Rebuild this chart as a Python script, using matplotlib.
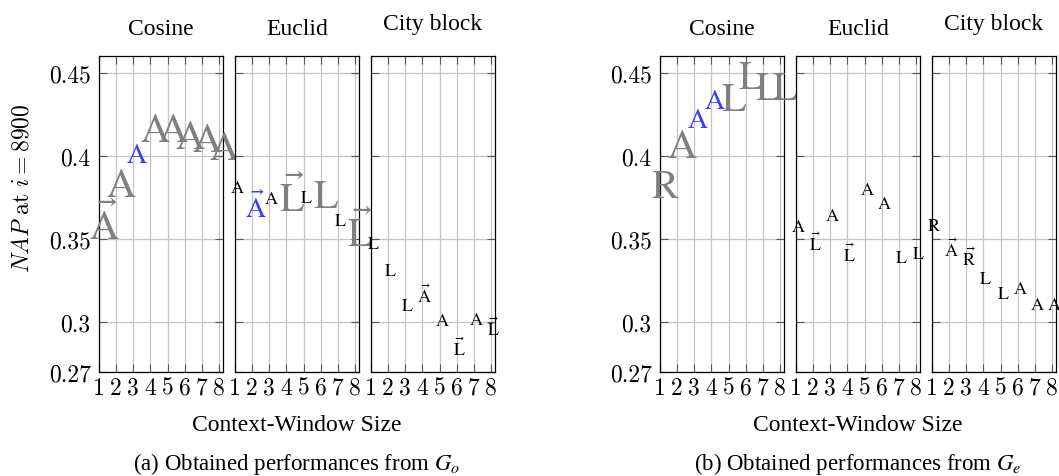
import matplotlib.pyplot as plt

panel_titles = ["Cosine", "Euclid", "City block"]
window_sizes = [1, 2, 3, 4, 5, 6, 7, 8]
y_ticks = [0.27, 0.3, 0.35, 0.4, 0.45]
y_tick_labels = ["0.27", "0.3", "0.35", "0.4", "0.45"]

# marks: letter, ">" = vector arrow on top; kinds: g = large gray, b = blue, k = small black
# (a) G_o
go_cos_nap = [0.358, 0.384, 0.402, 0.417, 0.417, 0.413, 0.411, 0.406]
go_cos_mark = ["A>", "A", "A", "A", "A", "A", "A", "A"]
go_cos_kind = ["g", "g", "b", "g", "g", "g", "g", "g"]

go_euc_nap = [0.382, 0.369, 0.375, 0.375, 0.376, 0.377, 0.362, 0.354]
go_euc_mark = ["A", "A>", "A", "L>", "L", "L", "L", "L>"]
go_euc_kind = ["k", "b", "k", "g", "k", "g", "k", "g"]

go_city_nap = [0.348, 0.332, 0.311, 0.316, 0.302, 0.284, 0.3025, 0.296]
go_city_mark = ["L", "L", "L", "A>", "A", "L>", "A", "L>"]
go_city_kind = ["k", "k", "k", "k", "k", "k", "k", "k"]

# (b) G_e
ge_cos_nap = [0.383, 0.4075, 0.423, 0.434, 0.4355, 0.4485, 0.442, 0.442]
ge_cos_mark = ["R", "A", "A", "A", "L", "L", "L", "L"]
ge_cos_kind = ["g", "g", "b", "b", "g", "g", "g", "g"]

ge_euc_nap = [0.3585, 0.347, 0.365, 0.3405, 0.3805, 0.3725, 0.340, 0.342]
ge_euc_mark = ["A", "L>", "A", "L>", "A", "A", "L", "L"]
ge_euc_kind = ["k", "k", "k", "k", "k", "k", "k", "k"]

ge_city_nap = [0.359, 0.3435, 0.338, 0.327, 0.318, 0.3215, 0.3115, 0.3115]
ge_city_mark = ["R", "A>", "R>", "L", "L", "A", "A", "A"]
ge_city_kind = ["k", "k", "k", "k", "k", "k", "k", "k"]

groups = [
    ("(a) Obtained performances from $G_o$",
     [(go_cos_nap, go_cos_mark, go_cos_kind),
      (go_euc_nap, go_euc_mark, go_euc_kind),
      (go_city_nap, go_city_mark, go_city_kind)]),
    ("(b) Obtained performances from $G_e$",
     [(ge_cos_nap, ge_cos_mark, ge_cos_kind),
      (ge_euc_nap, ge_euc_mark, ge_euc_kind),
      (ge_city_nap, ge_city_mark, ge_city_kind)]),
]

kind_style = {"g": (29, "#808080"), "b": (20, "#3c3cff"), "k": (13, "black")}

W, H = 1059, 477
fig = plt.figure(figsize=(W / 100, H / 100), dpi=100)
serif = "Liberation Serif"

group_left = [99, 660]
panel_step = 136
panel_w = 124
top_px, bot_px = 57, 373.3


def draw_marks(ax, nap, marks, kinds):
    for x, y, m, k in zip(window_sizes, nap, marks, kinds):
        size, color = kind_style[k]
        letter = m[0]
        if m.endswith(">"):
            s = r"$\vec{\mathrm{%s}}$" % letter
        else:
            s = r"$\mathrm{%s}$" % letter
        ax.annotate(s, (x, y), xytext=(0.13 * size, -0.33 * size),
                    textcoords="offset points", ha="center", va="baseline",
                    fontsize=size, color=color, math_fontfamily="stix",
                    annotation_clip=False, clip_on=False, zorder=5)


for gi, (caption, panels) in enumerate(groups):
    for pi, (nap, marks, kinds) in enumerate(panels):
        left = group_left[gi] + pi * panel_step
        ax = fig.add_axes([left / W, 1 - bot_px / H, panel_w / W, (bot_px - top_px) / H])
        ax.set_xlim(1, 8.23)
        ax.set_ylim(0.27, 0.46)
        ax.set_xticks(window_sizes)
        ax.set_xticklabels([str(v) for v in window_sizes], fontfamily="cmr10", fontsize=17)
        ax.set_yticks(y_ticks)
        if pi == 0:
            ax.set_yticklabels(y_tick_labels, fontfamily="cmr10", fontsize=17)
        else:
            ax.set_yticklabels([])
        ax.tick_params(direction="in", top=True, right=True, length=6, width=0.8,
                       color="#555555")
        ax.tick_params(axis="x", pad=3)
        ax.tick_params(axis="y", pad=6)
        ax.grid(True, color="#c4c4c4", linewidth=0.9)
        ax.set_axisbelow(True)
        for sp in ax.spines.values():
            sp.set_linewidth(0.9)
        pad = 19.5 if pi == 2 else 16
        ax.set_title(panel_titles[pi], fontfamily=serif, fontsize=17, pad=pad)
        draw_marks(ax, nap, marks, kinds)

    cx = (group_left[gi] + (2 * panel_step + panel_w) / 2) / W
    fig.text(cx, 1 - 426 / H, "Context-Window Size", ha="center", va="center",
             fontfamily=serif, fontsize=17)
    fig.text(cx, 1 - 464 / H, caption, ha="center", va="center",
             fontfamily=serif, fontsize=16.5, math_fontfamily="stix")

fig.text(22 / W, 1 - 188 / H, r"$NAP\ \mathrm{at}\ i = 8900$", rotation=90,
         ha="center", va="center", fontsize=17, math_fontfamily="cm")

fig.savefig("out.png", dpi=100)
